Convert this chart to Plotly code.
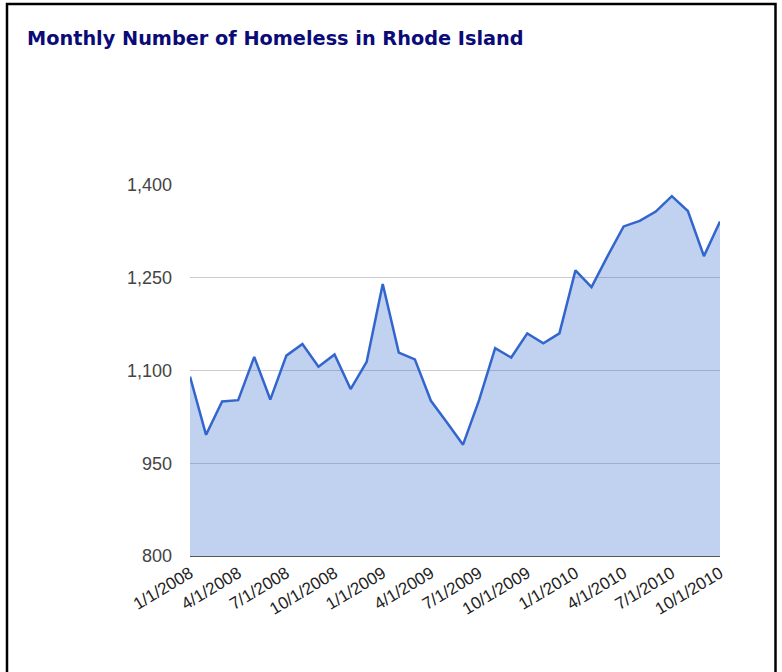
import plotly.graph_objects as go

months = ["1/1/2008", "2/1/2008", "3/1/2008", "4/1/2008", "5/1/2008", "6/1/2008",
          "7/1/2008", "8/1/2008", "9/1/2008", "10/1/2008", "11/1/2008", "12/1/2008",
          "1/1/2009", "2/1/2009", "3/1/2009", "4/1/2009", "5/1/2009", "6/1/2009",
          "7/1/2009", "8/1/2009", "9/1/2009", "10/1/2009", "11/1/2009", "12/1/2009",
          "1/1/2010", "2/1/2010", "3/1/2010", "4/1/2010", "5/1/2010", "6/1/2010",
          "7/1/2010", "8/1/2010", "9/1/2010", "10/1/2010"]
homeless = [1090, 996, 1050, 1052, 1122, 1053, 1124, 1143, 1106, 1126, 1070, 1114,
            1240, 1129, 1118, 1051, 1016, 980, 1052, 1136, 1121, 1160, 1144, 1160,
            1262, 1235, 1285, 1333, 1342, 1357, 1382, 1358, 1285, 1341]
tick_labels = ["1/1/2008", "4/1/2008", "7/1/2008", "10/1/2008", "1/1/2009", "4/1/2009",
               "7/1/2009", "10/1/2009", "1/1/2010", "4/1/2010", "7/1/2010", "10/1/2010"]
y_ticks = [800, 950, 1100, 1250, 1400]

fig = go.Figure()
fig.add_trace(go.Scatter(
    x=months, y=homeless, mode="lines",
    line=dict(color="#3366cc", width=2.5),
    fill="tozeroy", fillcolor="rgba(51,102,204,0.30)",
    hoverinfo="x+y", showlegend=False,
))

W, H = 782, 672
L, R, T, B = 190, 62, 185, 116
pw, ph = W - L - R, H - T - B

def px(x):
    return (x - L) / pw

def py(y):
    return (H - B - y) / ph

fig.update_layout(
    width=W, height=H,
    margin=dict(l=L, r=R, t=T, b=B, pad=0),
    paper_bgcolor="white", plot_bgcolor="white",
    font=dict(family="Liberation Sans, Arial, sans-serif", size=15, color="#444444"),
    title=dict(
        text="<b>Monthly Number of Homeless in Rhode Island</b>",
        x=27 / W, xref="container", xanchor="left",
        y=1 - 38.5 / H, yref="container", yanchor="middle",
        font=dict(family="DejaVu Sans, Verdana, sans-serif", size=19.3, color="#0b0b78"),
    ),
    xaxis=dict(
        type="category", range=[0, 33],
        tickmode="array", tickvals=tick_labels, ticktext=tick_labels,
        tickangle=-31, showgrid=False, zeroline=False,
        showline=True, linecolor="#555555", linewidth=1,
        ticks="", tickfont=dict(size=17, color="#222222"),
    ),
    yaxis=dict(
        range=[800, 1400], tickmode="array", tickvals=y_ticks,
        tickformat=",", showgrid=True, gridcolor="#cccccc", gridwidth=1,
        zeroline=False, showline=False, ticks="",
        ticklabelstandoff=17, tickfont=dict(size=18, color="#444444"),
    ),
    shapes=[dict(
        type="rect", xref="paper", yref="paper",
        x0=px(7), x1=px(775.5), y0=py(700), y1=py(4),
        line=dict(color="black", width=2.5), fillcolor="rgba(0,0,0,0)",
        layer="above",
    )],
)

fig.write_html("out.html", config={"displayModeBar": False},
               post_script="document.body.style.margin='0';")
